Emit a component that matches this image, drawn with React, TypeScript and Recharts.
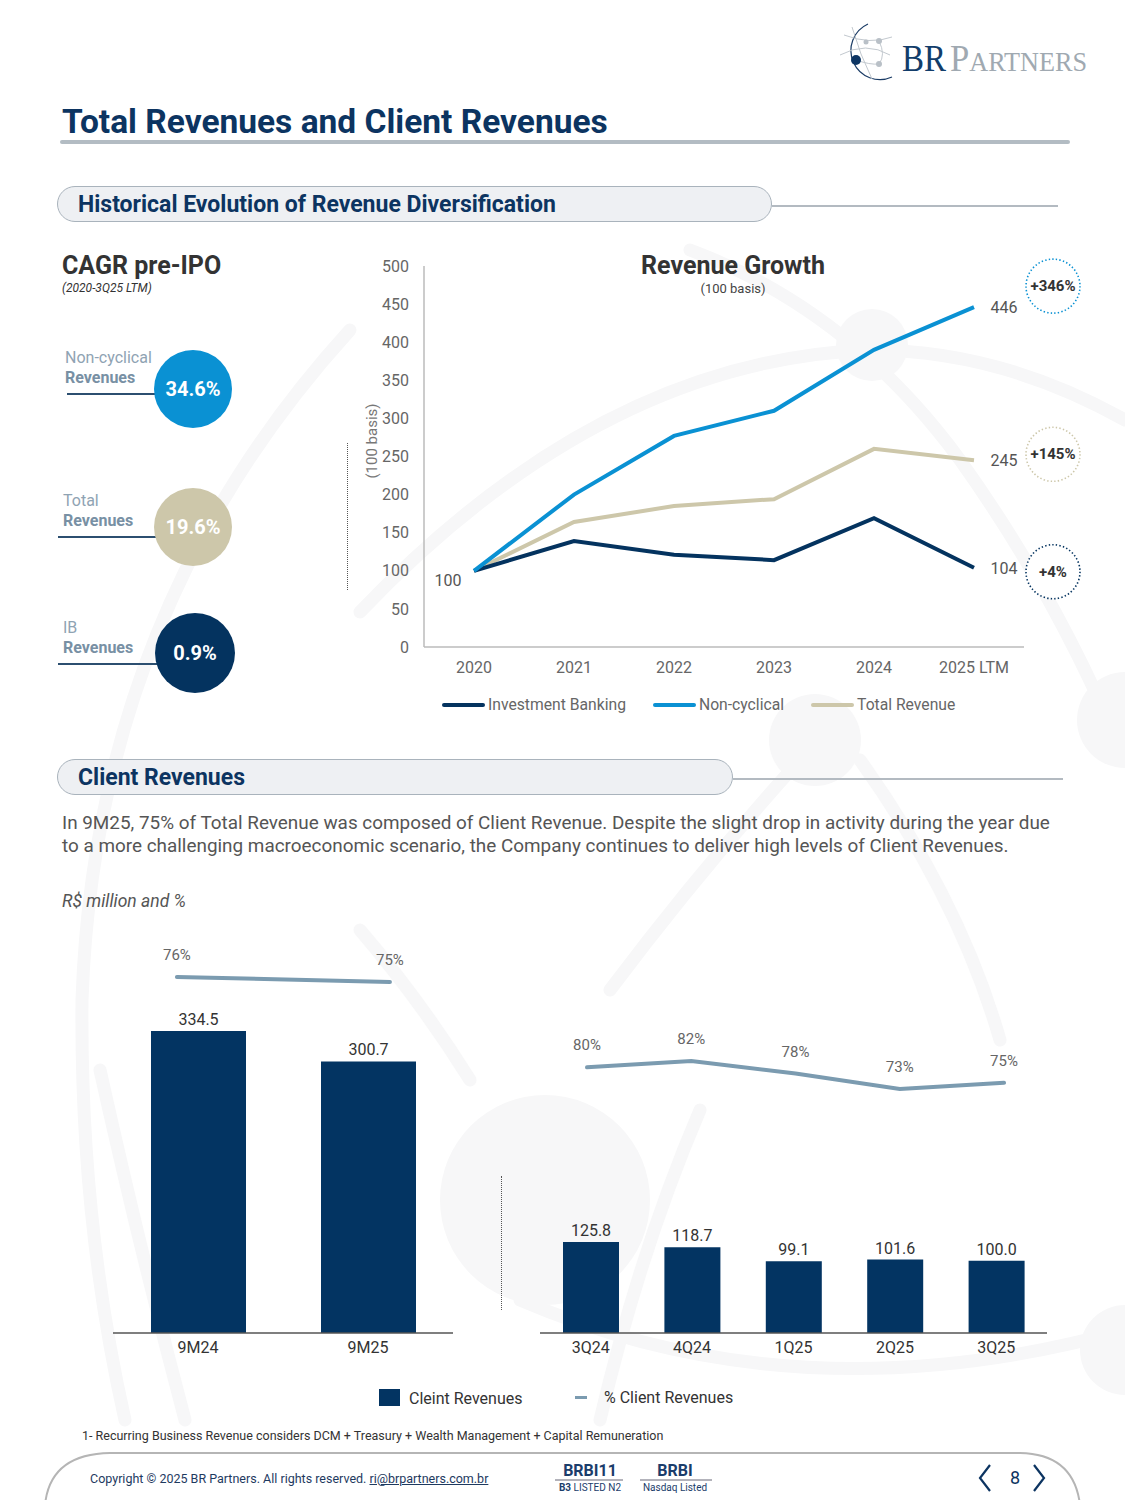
import React from 'react';
import { LineChart, Line, XAxis, YAxis, ComposedChart, Bar, LabelList } from 'recharts';

// Revenue growth (100 basis)
const years = ['2020', '2021', '2022', '2023', '2024', '2025 LTM'];
const investmentBanking = [100, 139, 121, 114, 169, 104];
const nonCyclical = [100, 200, 277, 310, 390, 446];
const totalRevenue = [100, 164, 185, 194, 260, 245];
const growthTicks = [0, 50, 100, 150, 200, 250, 300, 350, 400, 450, 500];

// CAGR pre-IPO
const cagrNames = ['Non-cyclical', 'Total', 'IB'];
const cagrValues = [34.6, 19.6, 0.9];

// Client revenues, R$ million and %
const periods9M = ['9M24', '9M25'];
const clientRevenue9M = [334.5, 300.7];
const clientShare9M = [76, 75];

const quarters = ['3Q24', '4Q24', '1Q25', '2Q25', '3Q25'];
const clientRevenueQ = [125.8, 118.7, 99.1, 101.6, 100.0];
const clientShareQ = [80, 82, 78, 73, 75];

const NAVY = '#04335f';
const BLUE = '#0a91d3';
const BEIGE = '#cdc7aa';
const BAR = '#033462';
const SHARE = '#7b9bb0';
const TITLE = '#0c3461';

const growthSeries = [
  { key: 'tr', name: 'Total Revenue', color: BEIGE, badgeDy: -6, showStart: true },
  { key: 'ib', name: 'Investment Banking', color: NAVY, badgeDy: 4, showStart: false },
  { key: 'nc', name: 'Non-cyclical', color: BLUE, badgeDy: -21, showStart: false },
];
const legendOrder = ['ib', 'nc', 'tr'];

const growthData = years.map((year, i) => ({
  year,
  ib: investmentBanking[i],
  nc: nonCyclical[i],
  tr: totalRevenue[i],
}));

const data9M = periods9M.map((period, i) => ({
  period,
  idx: i,
  revenue: clientRevenue9M[i],
  share: clientShare9M[i],
}));

const dataQ = quarters.map((period, i) => ({
  period,
  idx: i,
  revenue: clientRevenueQ[i],
  share: clientShareQ[i],
}));

const cagrColors = [BLUE, BEIGE, NAVY];

function Txt({ x, y, size, children, color = '#333', weight = 400, italic = false, align = 'left', style = {} }: any) {
  const lh = Math.round(size * 1.2);
  const tx = align === 'center' ? 'translateX(-50%)' : align === 'right' ? 'translateX(-100%)' : undefined;
  return (
    <div
      style={{
        position: 'absolute',
        left: x,
        top: y - lh / 2,
        fontSize: size,
        lineHeight: lh + 'px',
        color,
        fontWeight: weight,
        fontStyle: italic ? 'italic' : 'normal',
        whiteSpace: 'nowrap',
        transform: tx,
        ...style,
      }}
    >
      {children}
    </div>
  );
}

function makeGrowthLabel(color: string, badgeDy: number, showStart: boolean) {
  return (props: any) => {
    const x = props.x ?? props.viewBox?.x;
    const y = props.y ?? props.viewBox?.y;
    const { value, index } = props;
    if (index === years.length - 1) {
      const cy = y + badgeDy;
      return (
        <g>
          <text x={x + 30} y={y + 6} textAnchor="middle" fontSize={16} fill="#555">
            {value}
          </text>
          <circle cx={x + 79} cy={cy} r={27} fill="#fff" stroke={color} strokeWidth={1.6} strokeDasharray="1.4 2.2" />
          <text x={x + 79} y={cy + 5} textAnchor="middle" fontSize={15} fontWeight={700} fill="#333">
            {`+${Math.round(value - 100)}%`}
          </text>
        </g>
      );
    }
    if (index === 0 && showStart) {
      return (
        <text x={x - 26} y={y + 15} textAnchor="middle" fontSize={16} fill="#555">
          {value}
        </text>
      );
    }
    return <g />;
  };
}

function SectionHeader({ top, width, lineEnd, text }: any) {
  return (
    <>
      <div
        style={{
          position: 'absolute',
          left: 57,
          top,
          width,
          height: 36,
          borderRadius: 19,
          border: '1.5px solid #a9b3bc',
          background: '#eef0f3',
          boxSizing: 'border-box',
        }}
      />
      <div style={{ position: 'absolute', left: 57 + width, top: top + 19, width: lineEnd - 57 - width, height: 2, background: '#b3bac1' }} />
      <Txt x={78} y={top + 19} size={23} weight={700} color={TITLE}>
        {text}
      </Txt>
    </>
  );
}

function Background() {
  const c = '#f7f7f8';
  return (
    <svg width={1125} height={1500} style={{ position: 'absolute', left: 0, top: 0 }}>
      <g fill="none" stroke={c} strokeWidth={13} strokeLinecap="round">
        <path d="M 350 330 Q 95 610 82 1000 Q 80 1220 125 1420" />
        <path d="M 360 612 Q 600 360 870 350 Q 1000 350 1125 420" />
        <path d="M 690 250 Q 850 310 960 460 Q 1060 600 1125 760" />
        <path d="M 100 1070 Q 140 1250 185 1420" />
        <path d="M 360 930 Q 420 1000 470 1080" />
        <path d="M 600 1420 Q 640 1250 700 1110" />
        <path d="M 800 760 Q 700 870 610 990" />
        <path d="M 860 760 Q 960 900 1000 1040" />
        <path d="M 520 1300 Q 800 1420 1125 1330" />
      </g>
      <g fill={c}>
        <circle cx={545} cy={1200} r={105} />
        <circle cx={872} cy={345} r={36} />
        <circle cx={815} cy={740} r={46} />
        <circle cx={1125} cy={720} r={48} />
        <circle cx={1125} cy={1350} r={45} />
      </g>
    </svg>
  );
}

function Logo() {
  return (
    <svg width={270} height={75} style={{ position: 'absolute', left: 830, top: 15 }}>
      <path d="M 38 9 A 28 28 0 1 0 62 62" fill="none" stroke="#1b3c66" strokeWidth={1.2} />
      <g fill="none" stroke="#c3c9cf" strokeWidth={1}>
        <path d="M 14 20 Q 40 30 62 22" />
        <path d="M 10 40 Q 36 26 60 40" />
        <path d="M 26 45 Q 40 50 49 49" />
        <path d="M 22 12 Q 30 40 42 64" />
        <path d="M 49 26 Q 56 40 49 49" />
      </g>
      <circle cx={26} cy={45} r={5} fill="#0d3563" />
      <circle cx={36} cy={27} r={2.5} fill="#b9c0c7" />
      <circle cx={49} cy={26} r={3} fill="#b9c0c7" />
      <circle cx={49} cy={49} r={3} fill="#b9c0c7" />
      <text x={72} y={56} fontFamily="'Liberation Serif', serif" fontSize={38} fill="#123d6a" textLength={44} lengthAdjust="spacingAndGlyphs">
        BR
      </text>
      <text x={120} y={56} fontFamily="'Liberation Serif', serif" fill="#a0a9b1" textLength={137} lengthAdjust="spacingAndGlyphs">
        <tspan fontSize={37}>P</tspan>
        <tspan fontSize={28}>ARTNERS</tspan>
      </text>
    </svg>
  );
}

function GrowthChart() {
  return (
    <div style={{ position: 'absolute', left: 340, top: 240 }}>
      <LineChart width={760} height={500} data={growthData} margin={{ top: 26, right: 76, bottom: 63, left: 0 }}>
        <XAxis
          dataKey="year"
          height={30}
          padding={{ left: 50, right: 50 }}
          tickLine={false}
          tickSize={0}
          tickMargin={15}
          axisLine={{ stroke: '#bbbbbb', strokeWidth: 1.5 }}
          tick={{ fontSize: 16, fill: '#666' }}
        />
        <YAxis
          width={84}
          domain={[0, 500]}
          ticks={growthTicks}
          interval={0}
          tickLine={false}
          tickSize={0}
          tickMargin={15}
          axisLine={{ stroke: '#bbbbbb', strokeWidth: 1.5 }}
          tick={{ fontSize: 16, fill: '#666' }}
        />
        {growthSeries.map((s) => (
          <Line
            key={s.key}
            type="linear"
            dataKey={s.key}
            name={s.name}
            stroke={s.color}
            strokeWidth={4}
            dot={false}
            activeDot={false}
            isAnimationActive={false}
            label={makeGrowthLabel(s.color, s.badgeDy, s.showStart)}
          />
        ))}
      </LineChart>
    </div>
  );
}

function ClientChart({ left, top, width, height, data, margin, barSize, revMax, shareDomain, posDomain }: any) {
  return (
    <div style={{ position: 'absolute', left, top }}>
      <ComposedChart width={width} height={height} data={data} margin={margin}>
        <XAxis
          xAxisId="cat"
          dataKey="period"
          height={30}
          tickLine={false}
          tickSize={0}
          tickMargin={9}
          axisLine={{ stroke: '#555', strokeWidth: 1.5 }}
          tick={{ fontSize: 16, fill: '#333' }}
        />
        <XAxis xAxisId="pos" dataKey="idx" type="number" scale="linear" domain={posDomain} hide />
        <YAxis yAxisId="rev" type="number" scale="linear" domain={[0, revMax]} hide />
        <YAxis yAxisId="share" type="number" scale="linear" domain={shareDomain} hide />
        <Bar xAxisId="cat" yAxisId="rev" dataKey="revenue" fill={BAR} barSize={barSize} isAnimationActive={false}>
          <LabelList dataKey="revenue" position="top" offset={6} fontSize={16} fill="#333" formatter={(v: any) => Number(v).toFixed(1)} />
        </Bar>
        <Line
          xAxisId="pos"
          yAxisId="share"
          type="linear"
          dataKey="share"
          stroke={SHARE}
          strokeWidth={4}
          strokeLinecap="round"
          dot={false}
          activeDot={false}
          isAnimationActive={false}
        >
          <LabelList dataKey="share" position="top" offset={17} fontSize={15} fill="#666" formatter={(v: any) => `${v}%`} />
        </Line>
      </ComposedChart>
    </div>
  );
}

export default function App() {
  const cagrLayout = [
    { cx: 193, cy: 389, r: 39, labelX: 65, labelY: 357, lineX: 67 },
    { cx: 193, cy: 527, r: 39, labelX: 63, labelY: 500, lineX: 58 },
    { cx: 195, cy: 653, r: 40, labelX: 63, labelY: 627, lineX: 58 },
  ];
  return (
    <div
      style={{
        position: 'absolute',
        left: 0,
        top: 0,
        width: 1125,
        height: 1500,
        background: '#fff',
        overflow: 'hidden',
        fontFamily: 'Roboto, "Noto Sans", sans-serif',
        color: '#333',
      }}
    >
      <Background />
      <Logo />

      <Txt x={62} y={122} size={33.5} weight={700} color={TITLE}>
        Total Revenues and Client Revenues
      </Txt>
      <div style={{ position: 'absolute', left: 60, top: 140, width: 1010, height: 4, background: '#b3bcc3', borderRadius: 2 }} />

      <SectionHeader top={186} width={715} lineEnd={1058} text="Historical Evolution of Revenue Diversification" />

      {/* CAGR pre-IPO */}
      <Txt x={62} y={266} size={25} weight={700} color="#333">
        CAGR pre-IPO
      </Txt>
      <Txt x={62} y={288} size={12} italic color="#333">
        (2020-3Q25 LTM)
      </Txt>
      {cagrNames.map((name, i) => {
        const l = cagrLayout[i];
        return (
          <React.Fragment key={name}>
            <Txt x={l.labelX} y={l.labelY} size={16} color="#8fa3b3">
              {name}
            </Txt>
            <Txt x={l.labelX} y={l.labelY + 20} size={16} weight={700} color="#7890a4">
              Revenues
            </Txt>
            <div style={{ position: 'absolute', left: l.lineX, top: l.labelY + 36, width: l.cx - l.r - l.lineX + 2, height: 2, background: '#2c4f70' }} />
            <div
              style={{
                position: 'absolute',
                left: l.cx - l.r,
                top: l.cy - l.r,
                width: l.r * 2,
                height: l.r * 2,
                borderRadius: '50%',
                background: cagrColors[i],
              }}
            />
            <Txt x={l.cx} y={l.cy} size={20} weight={700} color="#fff" align="center">
              {cagrValues[i].toFixed(1)}%
            </Txt>
          </React.Fragment>
        );
      })}

      {/* Revenue growth */}
      <div style={{ position: 'absolute', left: 347, top: 443, height: 147, borderLeft: '1.5px dotted #555' }} />
      <div
        style={{
          position: 'absolute',
          left: 372,
          top: 441,
          fontSize: 15,
          color: '#777',
          whiteSpace: 'nowrap',
          transform: 'translate(-50%, -50%) rotate(-90deg)',
        }}
      >
        (100 basis)
      </div>
      <GrowthChart />
      <Txt x={733} y={266} size={25} weight={700} color="#333" align="center">
        Revenue Growth
      </Txt>
      <Txt x={733} y={289} size={13} color="#444" align="center">
        (100 basis)
      </Txt>
      <div style={{ position: 'absolute', left: 442, top: 695, display: 'flex', gap: 27, alignItems: 'center' }}>
        {legendOrder.map((k) => {
          const s = growthSeries.find((g) => g.key === k)!;
          return (
            <div key={k} style={{ display: 'flex', alignItems: 'center' }}>
              <div style={{ width: 43, height: 4, borderRadius: 2, background: s.color, marginRight: 3 }} />
              <span style={{ fontSize: 15.7, lineHeight: '20px', color: '#666' }}>{s.name}</span>
            </div>
          );
        })}
      </div>

      <SectionHeader top={759} width={676} lineEnd={1063} text="Client Revenues" />

      <Txt x={62} y={822} size={18.9} color="#555">
        In 9M25, 75% of Total Revenue was composed of Client Revenue. Despite the slight drop in activity during the year due
      </Txt>
      <Txt x={62} y={845} size={18.9} color="#555">
        to a more challenging macroeconomic scenario, the Company continues to deliver high levels of Client Revenues.
      </Txt>
      <Txt x={62} y={901} size={17.5} italic color="#555">
        R$ million and %
      </Txt>

      <ClientChart
        left={100}
        top={920}
        width={370}
        height={450}
        data={data9M}
        margin={{ top: 20, right: 17, bottom: 7, left: 13 }}
        barSize={95}
        revMax={435.2}
        shareDomain={[4.8, 83.4]}
        posDomain={[-0.3, 1.296]}
      />
      <div style={{ position: 'absolute', left: 501, top: 1176, height: 134, borderLeft: '1.5px dotted #555' }} />
      <ClientChart
        left={530}
        top={1000}
        width={530}
        height={370}
        data={dataQ}
        margin={{ top: 20, right: 13, bottom: 7, left: 10 }}
        barSize={56}
        revMax={433}
        shareDomain={[-5.4, 95.2]}
        posDomain={[-0.451, 4.412]}
      />

      {/* bottom legend */}
      <div style={{ position: 'absolute', left: 379, top: 1389, width: 21, height: 17, background: BAR }} />
      <Txt x={409} y={1398} size={16} color="#333">
        Cleint Revenues
      </Txt>
      <div style={{ position: 'absolute', left: 575, top: 1396, width: 12, height: 3, background: SHARE }} />
      <Txt x={604} y={1397} size={16} color="#333">
        % Client Revenues
      </Txt>

      <Txt x={82} y={1435} size={12.5} color="#333">
        1- Recurring Business Revenue considers DCM + Treasury + Wealth Management + Capital Remuneration
      </Txt>

      {/* footer */}
      <svg width={1125} height={60} style={{ position: 'absolute', left: 0, top: 1445 }}>
        <path d="M 45 60 Q 50 9 110 8 L 1020 8 Q 1074 9 1080 60" fill="none" stroke="#b5b5b5" strokeWidth={2} />
        <line x1={555} y1={35} x2={623} y2={35} stroke="#667" strokeWidth={1} />
        <line x1={640} y1={35} x2={712} y2={35} stroke="#667" strokeWidth={1} />
        <polyline points="990,20 980,33 990,46" fill="none" stroke={TITLE} strokeWidth={2.2} />
        <polyline points="1034,20 1044,33 1034,46" fill="none" stroke={TITLE} strokeWidth={2.2} />
      </svg>
      <Txt x={90} y={1478} size={12.5} color="#1e3a5f">
        Copyright © 2025 BR Partners. All rights reserved. <span style={{ textDecoration: 'underline' }}>ri@brpartners.com.br</span>
      </Txt>
      <Txt x={590} y={1470} size={16} weight={700} color="#1b3d6b" align="center">
        BRBI11
      </Txt>
      <Txt x={590} y={1488} size={10} color="#1b3d6b" align="center">
        <b>B3</b> LISTED N2
      </Txt>
      <Txt x={675} y={1470} size={16} weight={700} color="#1b3d6b" align="center">
        BRBI
      </Txt>
      <Txt x={675} y={1488} size={10} color="#1b3d6b" align="center">
        Nasdaq Listed
      </Txt>
      <Txt x={1015} y={1478} size={18} color={TITLE} align="center">
        8
      </Txt>
    </div>
  );
}
